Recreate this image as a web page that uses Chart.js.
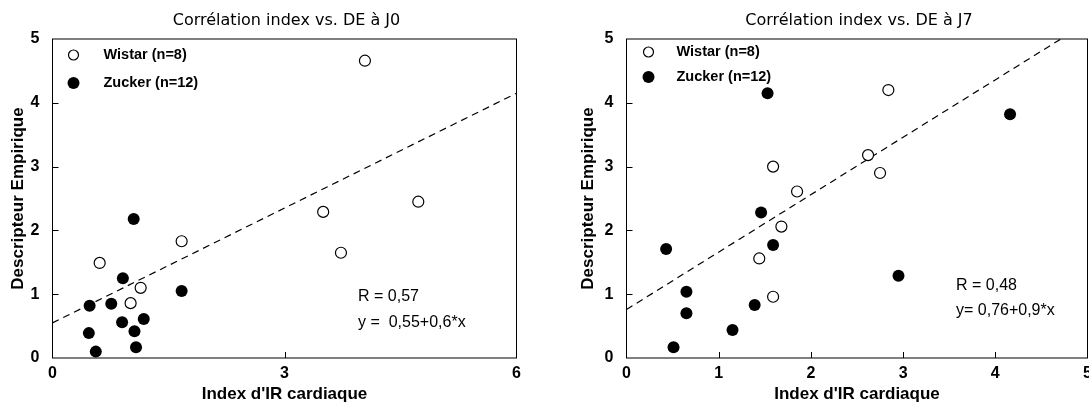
<!DOCTYPE html>
<html>
<head>
<meta charset="utf-8">
<script src="https://cdn.jsdelivr.net/npm/chart.js@4.4.1/dist/chart.umd.min.js"></script>
<style>
  html, body { margin: 0; padding: 0; background: #fff; overflow: hidden; width: 1089px; height: 403px; }
  #cJ0 { position: absolute; left: 0; top: 0; }
  #cJ7 { position: absolute; left: 545px; top: 0; }
</style>
</head>
<body>
<canvas id="cJ0" width="545" height="403"></canvas>
<canvas id="cJ7" width="560" height="403"></canvas>
<script>
// --- J0 ---
const wistarJ0X = [0.61, 1.01, 1.14, 1.67, 3.50, 3.73, 4.04, 4.73];
const wistarJ0Y = [1.49, 0.86, 1.10, 1.83, 2.29, 1.65, 4.66, 2.45];
const zuckerJ0X = [0.47, 0.48, 0.56, 0.76, 0.90, 0.91, 1.05, 1.06, 1.08, 1.18, 1.67];
const zuckerJ0Y = [0.39, 0.82, 0.10, 0.85, 0.56, 1.25, 2.18, 0.42, 0.17, 0.61, 1.05];
const fitJ0 = [0.55, 0.6];           // intercept, slope
const statsJ0 = ['R = 0,57', 'y =  0,55+0,6*x'];

// --- J7 ---
const wistarJ7X = [1.44, 1.59, 1.59, 1.68, 1.85, 2.62, 2.75, 2.84];
const wistarJ7Y = [1.56, 0.96, 3.00, 2.06, 2.61, 3.18, 2.90, 4.20];
const zuckerJ7X = [0.43, 0.51, 0.65, 0.65, 1.15, 1.39, 1.46, 1.53, 1.59, 2.95, 4.16];
const zuckerJ7Y = [1.71, 0.17, 1.04, 0.70, 0.44, 0.83, 2.28, 4.15, 1.77, 1.29, 3.82];
const fitJ7 = [0.76, 0.9];
const statsJ7 = ['R = 0,48', 'y= 0,76+0,9*x'];

const legendLabels = ['Wistar (n=8)', 'Zucker (n=12)'];
const xTitle = "Index d'IR cardiaque";
const yTitle = 'Descripteur Empirique';

const ARIAL = "'Liberation Sans', Arial, sans-serif";

function pts(xs, ys) {
  return xs.map((v, i) => ({ x: v, y: ys[i] }));
}

// frame, inner ticks, title, legend, stats text
const decor = {
  id: 'decor',
  beforeDatasetsDraw(chart) {
    const { ctx, chartArea: a, scales: { x, y } } = chart;
    ctx.save();
    ctx.strokeStyle = '#000';
    ctx.lineWidth = 1;
    ctx.strokeRect(a.left, a.top, a.right - a.left, a.bottom - a.top);
    ctx.beginPath();
    x.ticks.forEach(t => {
      if (t.value <= x.min || t.value >= x.max) return;
      const px = Math.round(x.getPixelForValue(t.value)) + 0.5;
      ctx.moveTo(px, a.bottom);
      ctx.lineTo(px, a.bottom - 6);
    });
    y.ticks.forEach(t => {
      if (t.value <= y.min || t.value >= y.max) return;
      const py = Math.round(y.getPixelForValue(t.value)) + 0.5;
      ctx.moveTo(a.left, py);
      ctx.lineTo(a.left + 6, py);
    });
    ctx.stroke();
    ctx.restore();
  },
  afterDraw(chart, args, o) {
    const { ctx, chartArea: a } = chart;
    ctx.save();
    ctx.fillStyle = '#000';
    ctx.textBaseline = 'middle';

    // title
    ctx.font = "16px 'DejaVu Sans', sans-serif";
    ctx.textAlign = 'center';
    ctx.fillText(o.title, (a.left + a.right) / 2 + 2, 21);

    // legend
    ctx.textAlign = 'left';
    ctx.font = 'bold 14.5px ' + ARIAL;
    o.legendY.forEach((ly, i) => {
      const cx = a.left + o.legendDx;
      ctx.beginPath();
      if (i === 0) {
        ctx.arc(cx, ly, 5, 0, Math.PI * 2);
        ctx.fillStyle = '#fff';
        ctx.fill();
        ctx.lineWidth = 1.2;
        ctx.strokeStyle = '#000';
        ctx.stroke();
      } else {
        ctx.arc(cx, ly, 6, 0, Math.PI * 2);
        ctx.fillStyle = '#000';
        ctx.fill();
      }
      ctx.fillStyle = '#000';
      ctx.fillText(legendLabels[i], a.left + o.textDx, ly);
    });

    // stats
    ctx.font = '16px ' + ARIAL;
    o.stats.forEach((s, i) => {
      ctx.fillText(s, o.statsX, o.statsY[i]);
    });
    ctx.restore();
  }
};

function makeChart(id, cfg) {
  const xMax = cfg.xMax;
  const fitLine = [
    { x: 0, y: cfg.fit[0] },
    { x: xMax, y: cfg.fit[0] + cfg.fit[1] * xMax }
  ];
  return new Chart(document.getElementById(id), {
    type: 'scatter',
    data: {
      datasets: [
        {
          label: legendLabels[0],
          data: pts(cfg.wx, cfg.wy),
          backgroundColor: '#fff',
          borderColor: '#000',
          borderWidth: 1.2,
          pointRadius: 5.5,
          order: 0
        },
        {
          label: legendLabels[1],
          data: pts(cfg.zx, cfg.zy),
          backgroundColor: '#000',
          borderColor: '#000',
          borderWidth: 0,
          pointRadius: 6,
          order: 1
        },
        {
          type: 'line',
          label: 'fit',
          data: fitLine,
          borderColor: '#000',
          borderWidth: 1.2,
          borderDash: [7, 5],
          pointRadius: 0,
          fill: false,
          order: 2
        }
      ]
    },
    options: {
      responsive: false,
      animation: false,
      layout: { padding: { top: 39, left: 0, right: cfg.padRight, bottom: 0 } },
      plugins: {
        legend: { display: false },
        tooltip: { enabled: false },
        decor: {
          title: cfg.title,
          legendY: cfg.legendY,
          legendDx: cfg.legendDx,
          textDx: cfg.textDx,
          stats: cfg.stats,
          statsX: cfg.statsX,
          statsY: cfg.statsY
        }
      },
      scales: {
        x: {
          type: 'linear',
          min: 0,
          max: xMax,
          afterFit: s => { s.height = 45; },
          grid: { display: false, drawTicks: false },
          border: { display: false },
          ticks: {
            stepSize: cfg.xStep,
            padding: 6,
            color: '#000',
            font: { family: ARIAL, weight: 'bold', size: 16 }
          },
          title: {
            display: true,
            text: xTitle,
            color: '#000',
            padding: { top: 0, bottom: 0 },
            font: { family: ARIAL, weight: 'bold', size: 17, lineHeight: 1 }
          }
        },
        y: {
          type: 'linear',
          min: 0,
          max: 5,
          afterFit: s => { s.width = cfg.yWidth; },
          grid: { display: false, drawTicks: false },
          border: { display: false },
          ticks: {
            stepSize: 1,
            padding: 13,
            color: '#000',
            font: { family: ARIAL, weight: 'bold', size: 16 }
          },
          title: {
            display: true,
            text: yTitle,
            color: '#000',
            padding: { top: cfg.yTitlePad, bottom: 0 },
            font: { family: ARIAL, weight: 'bold', size: 17, lineHeight: 1 }
          }
        }
      }
    },
    plugins: [decor]
  });
}

makeChart('cJ0', {
  title: 'Corrélation index vs. DE à J0',
  wx: wistarJ0X, wy: wistarJ0Y, zx: zuckerJ0X, zy: zuckerJ0Y,
  fit: fitJ0, xMax: 6, xStep: 3,
  yWidth: 52.5, padRight: 28.5, yTitlePad: 10,
  legendY: [55, 83], legendDx: 21, textDx: 51,
  stats: statsJ0, statsX: 358, statsY: [297, 323]
});

makeChart('cJ7', {
  title: 'Corrélation index vs. DE à J7',
  wx: wistarJ7X, wy: wistarJ7Y, zx: zuckerJ7X, zy: zuckerJ7Y,
  fit: fitJ7, xMax: 5, xStep: 1,
  yWidth: 81.5, padRight: 17.5, yTitlePad: 35,
  legendY: [52, 77], legendDx: 22, textDx: 50,
  stats: statsJ7, statsX: 411, statsY: [286, 311]
});
</script>
</body>
</html>
